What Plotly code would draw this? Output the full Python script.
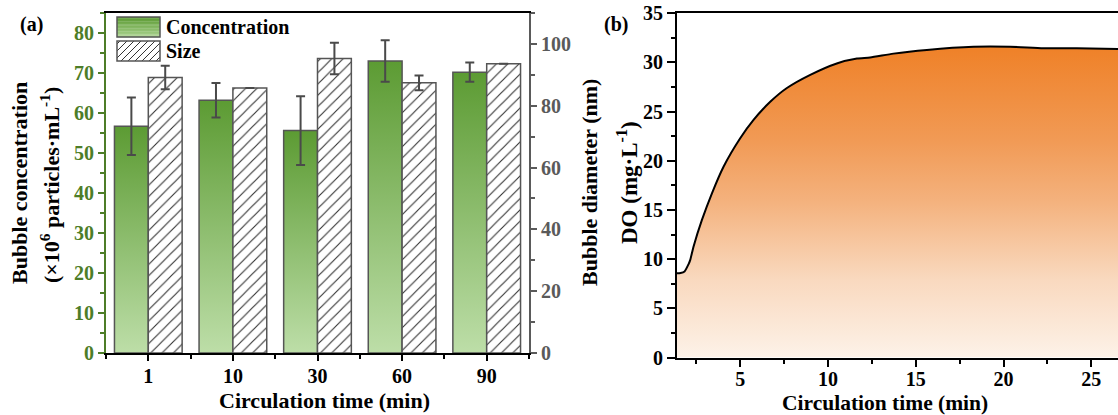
import plotly.graph_objects as go

W, H = 1118, 415
FONT = "Liberation Serif"

# ---------------- data ----------------
categories = ["1", "10", "30", "60", "90"]
concentration = [56.7, 63.2, 55.6, 73.0, 70.2]
concentration_err = [7.2, 4.3, 8.6, 5.2, 2.4]
size_nm = [89.1, 85.7, 95.3, 87.4, 93.6]
size_err = [3.8, None, 5.1, 2.4, None]

do_time = [1.40, 1.60, 1.83, 2.06, 2.15, 2.34, 2.82, 3.39, 4.05, 5.00, 5.76, 6.71,
           7.66, 8.99, 10.5, 11.65, 12.4, 13.73, 15.63, 18.29, 20.38, 22.27, 24.17, 26.52]
do_val = [8.57, 8.60, 8.75, 9.5, 9.9, 11.27, 13.99, 16.7, 19.4, 22.3, 24.16, 26.0,
          27.4, 28.74, 29.9, 30.4, 30.5, 30.9, 31.28, 31.6, 31.6, 31.45, 31.45, 31.38]

# ---------------- styles ----------------
GREEN_AXIS = "#4d7d28"
GRAY_AXIS = "#5a5a5a"
BAR_EDGE = "#555555"
ERR_COL = "#4a4a4a"
green_cs = [[0, "#bddea8"], [1, "#5c9b33"]]
orange_cs = [[0, "#fdf2e8"], [0.25, "#f9d9bf"], [0.5, "#f4b27e"], [0.7, "#f19a55"], [1, "#ef8128"]]

def px(x, y):
    return x / W, 1 - y / H

positions = list(range(len(categories)))
BW = 0.4

fig = go.Figure()

# concentration bars (gradient-filled rectangles on the left axis)
for i, v in zip(positions, concentration):
    fig.add_trace(go.Scatter(
        x=[i - BW, i - BW, i, i, i - BW], y=[0, v, v, 0, 0],
        mode="lines", fill="toself",
        fillgradient=dict(type="vertical", colorscale=green_cs, start=0, stop=v),
        line=dict(color=BAR_EDGE, width=1.5),
        xaxis="x", yaxis="y", showlegend=False, hoverinfo="skip"))

# concentration error bars
fig.add_trace(go.Scatter(
    x=[i - BW / 2 for i in positions], y=concentration, mode="markers",
    marker=dict(size=1, color="rgba(0,0,0,0)"),
    error_y=dict(type="data", array=concentration_err, color=ERR_COL, thickness=2, width=4.5),
    xaxis="x", yaxis="y", showlegend=False, hoverinfo="skip"))

# size bars (hatched, right axis)
fig.add_trace(go.Bar(
    x=positions, y=size_nm, width=BW, offset=0,
    marker=dict(color="white", line=dict(color=BAR_EDGE, width=1.5),
                pattern=dict(shape="/", fgcolor="#333333", bgcolor="white", size=8, solidity=0.14)),
    error_y=dict(type="data", array=size_err, color=ERR_COL, thickness=2, width=4.5),
    xaxis="x", yaxis="y2", showlegend=False, hoverinfo="skip"))

# DO curve
fig.add_trace(go.Scatter(
    x=do_time, y=do_val, mode="lines",
    line=dict(color="black", width=2, shape="spline", smoothing=0.6),
    fill="tozeroy",
    fillgradient=dict(type="vertical", colorscale=orange_cs, start=0, stop=31.6),
    xaxis="x2", yaxis="y3", showlegend=False, hoverinfo="skip"))

tick_font = dict(family=FONT, size=20, color="black", weight="bold")

fig.update_layout(
    template="none",
    width=W, height=H, margin=dict(l=0, r=0, t=0, b=0, pad=0, autoexpand=False),
    paper_bgcolor="white", plot_bgcolor="rgba(0,0,0,0)",
    font=dict(family=FONT, color="black"),
    showlegend=False,
    xaxis=dict(domain=[106 / W, 529 / W], anchor="y", range=[-0.5, 4.5], automargin=False,
               tickmode="array", tickvals=positions, ticktext=categories,
               ticks="outside", ticklen=6, tickwidth=2, tickcolor="black", ticklabelstandoff=-2,
               showline=True, linecolor="black", linewidth=2, mirror=True,
               showgrid=False, zeroline=False, tickfont=tick_font,
               minor=dict(tickmode="linear", tick0=0.5, dtick=1, ticks="outside",
                          ticklen=4, tickwidth=2, tickcolor="black", showgrid=False)),
    yaxis=dict(domain=[1 - 353 / H, 1 - 13 / H], anchor="x", range=[0, 85], automargin=False,
               tick0=0, dtick=10, ticks="outside", ticklen=6, tickwidth=2,
               tickcolor=GREEN_AXIS, showline=True, linecolor=GREEN_AXIS, linewidth=2,
               showgrid=False, zeroline=False,
               tickfont=dict(family=FONT, size=20, color=GREEN_AXIS, weight="bold"),
               minor=dict(dtick=5, ticks="outside", ticklen=4, tickwidth=2,
                          tickcolor=GREEN_AXIS, showgrid=False)),
    yaxis2=dict(overlaying="y", side="right", anchor="x", range=[0, 110], automargin=False,
                tick0=0, dtick=20, ticks="outside", ticklen=6, tickwidth=2,
                tickcolor=GRAY_AXIS, showline=True, linecolor=GRAY_AXIS, linewidth=2,
                showgrid=False, zeroline=False,
                tickfont=dict(family=FONT, size=20, color=GRAY_AXIS, weight="bold"),
                minor=dict(dtick=10, ticks="outside", ticklen=4, tickwidth=2,
                           tickcolor=GRAY_AXIS, showgrid=False)),
    xaxis2=dict(domain=[677 / W, 1.0], anchor="y3", range=[1.4, 26.52], automargin=False,
                tick0=0, dtick=5, ticks="outside", ticklen=7, tickwidth=2, tickcolor="black",
                ticklabelstandoff=-5,
                showline=True, linecolor="black", linewidth=2, mirror=True,
                showgrid=False, zeroline=False, tickfont=tick_font,
                minor=dict(dtick=2.5, ticks="outside", ticklen=4, tickwidth=2,
                           tickcolor="black", showgrid=False)),
    yaxis3=dict(domain=[1 - 357.5 / H, 1 - 13.3 / H], anchor="x2", range=[0, 35], automargin=False,
                tick0=0, dtick=5, ticks="outside", ticklen=8, tickwidth=2, tickcolor="black",
                showline=True, linecolor="black", linewidth=2,
                showgrid=False, zeroline=False, tickfont=tick_font,
                minor=dict(dtick=2.5, ticks="outside", ticklen=4, tickwidth=2,
                           tickcolor="black", showgrid=False)),
)

# ---------------- text ----------------
def ann(text, x, y, size=22, angle=0, xanchor="center", color="black"):
    ax, ay = px(x, y)
    fig.add_annotation(text=text, x=ax, y=ay, xref="paper", yref="paper",
                       showarrow=False, textangle=angle, xanchor=xanchor, yanchor="middle",
                       font=dict(family=FONT, size=size, color=color, weight="bold"))

ann("(a)", 31, 24, size=20)
ann("(b)", 616, 24, size=20)
ann("Bubble concentration", 19, 183, angle=-90)
ann("(×10<sup>6</sup> particles·mL<sup>-1</sup>)", 50, 185, angle=-90)
ann("Bubble diameter (nm)", 589, 183, angle=-90)
ann("DO (mg·L<sup>-1</sup>)", 627, 183, angle=-90, size=23)
ann("Circulation time (min)", 324, 400)
ann("Circulation time (min)", 885, 402.5, size=21.5)

# ---------------- legend (manual) ----------------
def hexrgb(h):
    h = h.lstrip("#")
    return [int(h[k:k + 2], 16) for k in (0, 2, 4)]

top_c, bot_c = hexrgb("#5c9b33"), hexrgb("#a9d18e")
gx0, gx1, gy0, gy1 = 117, 160, 17, 37
n = 14
for k in range(n):
    t = k / (n - 1)
    c = [round(top_c[j] + (bot_c[j] - top_c[j]) * t) for j in range(3)]
    ya = gy0 + (gy1 - gy0) * k / n
    yb = gy0 + (gy1 - gy0) * (k + 1) / n
    x0p, y0p = px(gx0, ya)
    x1p, y1p = px(gx1, yb + 0.3)
    fig.add_shape(type="rect", xref="paper", yref="paper", x0=x0p, x1=x1p, y0=y0p, y1=y1p,
                  line=dict(width=0), fillcolor="rgb(%d,%d,%d)" % tuple(c), layer="above")
x0p, y0p = px(gx0, gy0)
x1p, y1p = px(gx1, gy1)
fig.add_shape(type="rect", xref="paper", yref="paper", x0=x0p, x1=x1p, y0=y0p, y1=y1p,
              line=dict(color=BAR_EDGE, width=1.5), fillcolor="rgba(0,0,0,0)", layer="above")

hx0, hx1, hy0, hy1 = 117, 160, 41, 61
x0p, y0p = px(hx0, hy0)
x1p, y1p = px(hx1, hy1)
fig.add_shape(type="rect", xref="paper", yref="paper", x0=x0p, x1=x1p, y0=y0p, y1=y1p,
              line=dict(width=0), fillcolor="white", layer="above")
segs = []
c = hx0 + hy0 + 3
while c < hx1 + hy1:
    xa = max(hx0, c - hy1)
    xb = min(hx1, c - hy0)
    if xb > xa:
        pa = px(xa, c - xa)
        pb = px(xb, c - xb)
        segs.append("M%.5f,%.5f L%.5f,%.5f" % (pa[0], pa[1], pb[0], pb[1]))
    c += 7
fig.add_shape(type="path", xref="paper", yref="paper", path=" ".join(segs),
              line=dict(color="#333333", width=1), layer="above")
fig.add_shape(type="rect", xref="paper", yref="paper", x0=x0p, x1=x1p, y0=y0p, y1=y1p,
              line=dict(color=BAR_EDGE, width=1.5), fillcolor="rgba(0,0,0,0)", layer="above")

ann("Concentration", 164, 27, size=20, xanchor="left")
ann("Size", 164, 51, size=20, xanchor="left")

fig.write_html("out.html")
